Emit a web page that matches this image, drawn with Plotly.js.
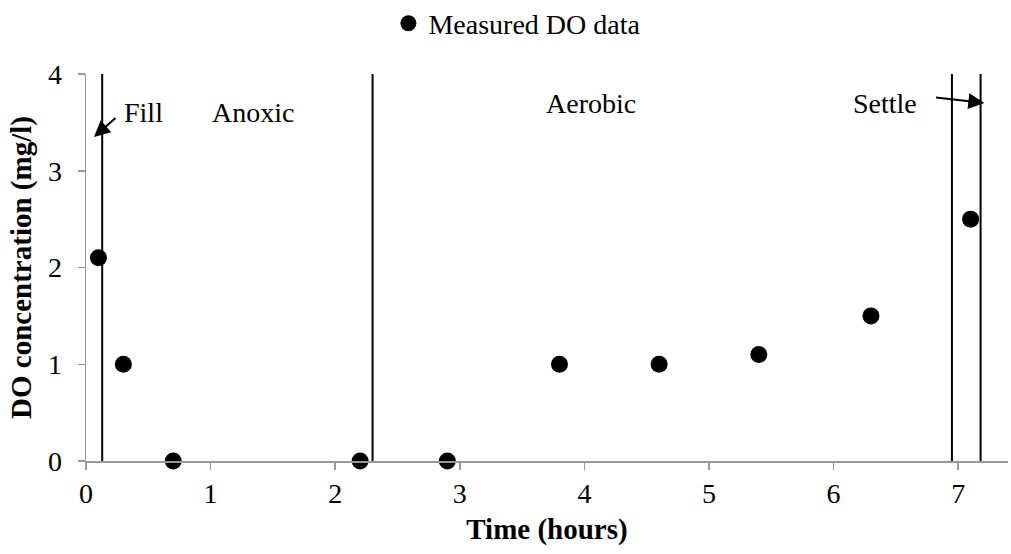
<!DOCTYPE html>
<html>
<head>
<meta charset="utf-8">
<script src="https://cdn.plot.ly/plotly-3.0.1.min.js"></script>
<style>html,body{margin:0;padding:0;background:#fff;}#chart{width:1011px;height:554px;}</style>
</head>
<body>
<div id="chart"></div>
<script>
const timeHours = [0.1, 0.3, 0.7, 2.2, 2.9, 3.8, 4.6, 5.4, 6.3, 7.1];
const doConc = [2.1, 1.0, 0.0, 0.0, 0.0, 1.0, 1.0, 1.1, 1.5, 2.5];
const phaseBoundaries = [0.13, 2.3, 6.95, 7.18];
const phaseLabels = ["Fill", "Anoxic", "Aerobic", "Settle"];
const phaseLabelX = [0.46, 1.34, 4.05, 6.41];
const phaseLabelY = [3.6, 3.6, 3.7, 3.7];
const xTicks = [0, 1, 2, 3, 4, 5, 6, 7];
const yTicks = [0, 1, 2, 3, 4];

const font = "'Liberation Serif', 'Times New Roman', serif";

const trace = {
  x: timeHours, y: doConc, type: 'scatter', mode: 'markers',
  name: 'Measured DO data',
  marker: {color: '#000', size: 17},
  cliponaxis: false
};

const shapes = phaseBoundaries.map(b => ({
  type: 'line', xref: 'x', yref: 'y', x0: b, x1: b, y0: 0, y1: 4,
  line: {color: '#000', width: 2}
}));

const annotations = phaseLabels.map((t, i) => ({
  x: phaseLabelX[i], y: phaseLabelY[i], xref: 'x', yref: 'y',
  text: t, showarrow: false, font: {family: font, size: 28, color: '#000'}
}));
annotations.push({
  x: 0.064, y: 3.35, ax: 0.249, ay: 3.56, xref: 'x', yref: 'y', axref: 'x', ayref: 'y',
  text: '', showarrow: true, arrowhead: 2, arrowsize: 1.6, arrowwidth: 2, arrowcolor: '#000'
});
annotations.push({
  x: 7.21, y: 3.70, ax: 6.81, ay: 3.76, xref: 'x', yref: 'y', axref: 'x', ayref: 'y',
  text: '', showarrow: true, arrowhead: 2, arrowsize: 1.6, arrowwidth: 2, arrowcolor: '#000'
});

const layout = {
  width: 1011, height: 554,
  margin: {l: 86, r: 3, t: 74, b: 93, autoexpand: false},
  paper_bgcolor: '#fff', plot_bgcolor: '#fff',
  font: {family: font, size: 28, color: '#000'},
  showlegend: true,
  legend: {orientation: 'h', x: 0.328, xanchor: 'left', y: 1.195, yanchor: 'top',
           font: {family: font, size: 28, color: '#000'}, itemwidth: 20},
  xaxis: {
    range: [0, 7.4], tickvals: xTicks, ticktext: xTicks.map(String),
    showgrid: false, zeroline: false, showline: true, linecolor: '#999', linewidth: 1.5,
    ticks: 'outside', ticklen: 7, tickcolor: '#999', tickwidth: 1.5,
    tickfont: {family: font, size: 28, color: '#000'},
    title: {text: '<b>Time (hours)</b>', font: {family: font, size: 29, color: '#000'}, standoff: 10}
  },
  yaxis: {
    range: [0, 4], tickvals: yTicks, ticktext: yTicks.map(String),
    showgrid: false, zeroline: false, showline: true, linecolor: '#999', linewidth: 1.5,
    ticks: 'outside', ticklen: 7, tickcolor: '#999', tickwidth: 1.5, ticklabelstandoff: 10,
    tickfont: {family: font, size: 28, color: '#000'},
    title: {text: '<b>DO concentration (mg/l)</b>', font: {family: font, size: 29, color: '#000'}, standoff: 8}
  },
  shapes: shapes,
  annotations: annotations
};

Plotly.newPlot('chart', [trace], layout, {displayModeBar: false, staticPlot: true});
</script>
</body>
</html>
